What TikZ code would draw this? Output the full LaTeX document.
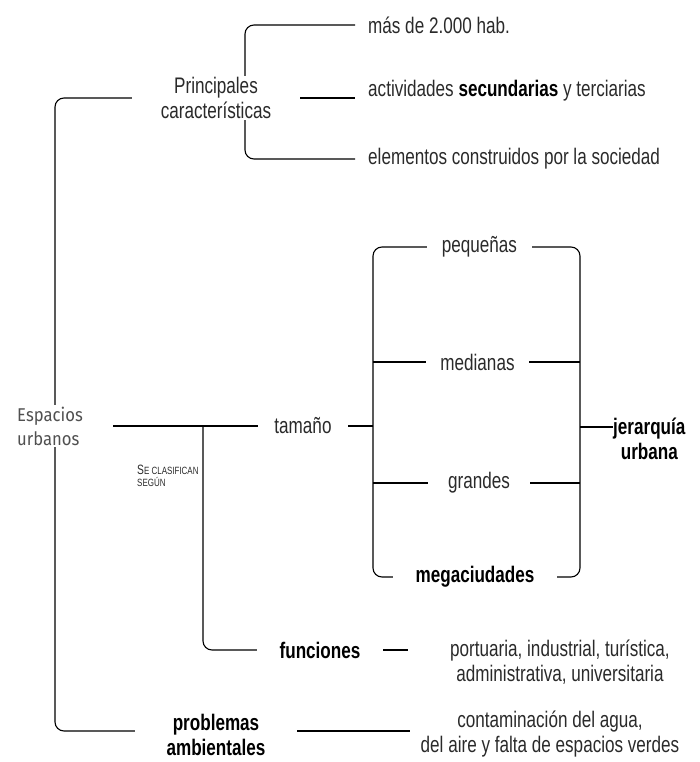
\documentclass[tikz,border=0pt]{standalone}
\usepackage{fontspec}
\setmainfont[FakeStretch=0.76]{Liberation Sans}
\newfontfamily\handfont[FakeStretch=0.9]{Fira Sans}
\usetikzlibrary{backgrounds,calc}
\definecolor{txt}{HTML}{2A2A2A}
\definecolor{handgray}{HTML}{505050}
\newcommand\fakesc[1]{{\fontsize{10.5}{18}\selectfont #1}}
\begin{document}
\begin{tikzpicture}[x=1pt,y=-1pt,
  lbl/.style={font=\fontsize{22.5}{24.5}\selectfont, text=txt, align=center, inner xsep=0pt, inner ysep=1pt},
  blbl/.style={font=\fontsize{22.5}{24.5}\selectfont\bfseries, text=black, align=center, inner xsep=0pt, inner ysep=1pt},
  conn/.style={draw=black, line width=1.1pt, rounded corners=9pt}]
\useasboundingbox (0,0) rectangle (699,762);

% helper coordinates (x or y positions of shared lines)
\coordinate (mx) at (55,0);
\coordinate (tb) at (245,0);
\coordinate (lx) at (373,0);
\coordinate (rx) at (580,0);
\coordinate (sp) at (203,426);
\coordinate (jl) at (0,427);
\coordinate (py) at (0,731);
\coordinate (cl) at (410,731);

% nodes
\node[font=\handfont\fontsize{18.5}{24}\selectfont, text=handgray, fill=white, align=left,
      minimum width=126pt, inner xsep=0pt, inner ysep=2pt] (esp) at (50,426) {Espacios\\urbanos};
\node[lbl, fill=white, minimum width=168pt] (princ) at (216,98) {Principales\\características};
\node[lbl, anchor=west, inner xsep=13pt] (mas) at (355,25) {más de 2.000 hab.};
\node[lbl, anchor=west, inner xsep=13pt] (act) at (355,91) {actividades {\color{black}\bfseries secundarias} y terciarias};
\node[lbl, anchor=west, inner xsep=13pt] (elem) at (355,159) {elementos construidos por la sociedad};

\node[lbl, minimum width=90pt] (tam) at (303,426) {tamaño};
\node[lbl, minimum width=105pt] (peq) at (479.5,247) {pequeñas};
\node[lbl, minimum width=103pt] (med) at (477.5,362) {medianas};
\node[lbl, minimum width=102pt] (gra) at (479,483) {grandes};
\node[blbl, minimum width=164pt] (mega) at (475,577) {megaciudades};
\node[blbl, anchor=west] (jer) at (613,439) {jerarquía\\urbana};

\node[anchor=north west, align=left, text=txt, inner sep=0pt] (clas) at (137,465)
  {{\fontsize{13.5}{18}\selectfont S}\fakesc{E CLASIFICAN}\\\fakesc{SEGÚN}};

\node[blbl, minimum width=126pt] (fun) at (320,650) {funciones};
\node[lbl, minimum width=304pt] (port) at (560,662) {portuaria, industrial, turística,\\administrativa, universitaria};
\node[blbl, minimum width=162pt] (prob) at (216,735) {problemas\\ambientales};
\node[lbl] (cont) at (550,734) {contaminación del agua,\\del aire y falta de espacios verdes};

% connectors
\begin{pgfonlayer}{background}
\draw[conn] (princ.west) -- (princ.west -| mx) -- (mx |- py) -- (prob.west |- py);
\draw[conn] (mas.west) -- (mas.west -| tb) -- (elem.west -| tb) -- (elem.west);
\draw[conn] (princ.east) -- (act.west |- princ.east);
\draw[conn] (esp.east) -- (tam.west);
\draw[conn] (sp) |- (fun.west);
\draw[conn] (tam.east) -- (tam.east -| lx);
\draw[conn] (peq.west) -- (peq.west -| lx) -- (mega.west -| lx) -- (mega.west);
\draw[conn] (peq.east) -- (peq.east -| rx) -- (mega.east -| rx) -- (mega.east);
\draw[conn] (med.west -| lx) -- (med.west);
\draw[conn] (med.east) -- (med.east -| rx);
\draw[conn] (gra.west -| lx) -- (gra.west);
\draw[conn] (gra.east) -- (gra.east -| rx);
\draw[conn] (rx |- jl) -- (jer.west |- jl);
\draw[conn] (fun.east) -- (port.west |- fun.east);
\draw[conn] (prob.east |- py) -- (cl);
\end{pgfonlayer}
\end{tikzpicture}
\end{document}
